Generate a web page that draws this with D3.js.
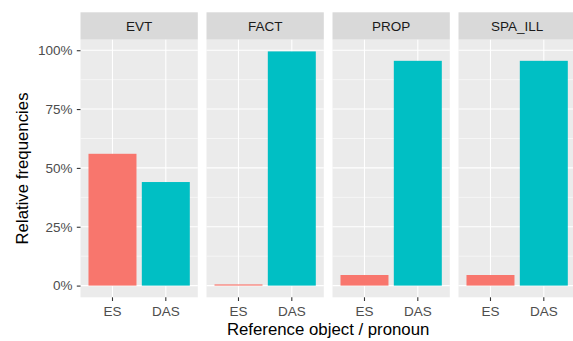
<!DOCTYPE html>
<html>
<head>
<meta charset="utf-8">
<script src="https://cdn.jsdelivr.net/npm/d3@7"></script>
<style>
  html, body { margin: 0; padding: 0; background: #ffffff; }
  svg { display: block; font-family: "Liberation Sans", Arial, sans-serif; }
</style>
</head>
<body>
<svg id="chart" width="573" height="341"></svg>
<script>
// ---- data ----
const facets = ["EVT", "FACT", "PROP", "SPA_ILL"];
const pronouns = ["ES", "DAS"];
const esValues = [0.56, 0.005, 0.045, 0.045];
const dasValues = [0.44, 0.995, 0.955, 0.955];
const yTicks = [0, 0.25, 0.5, 0.75, 1];
const yTickLabels = ["0%", "25%", "50%", "75%", "100%"];
const yMinorTicks = [0.125, 0.375, 0.625, 0.875];
const colors = { ES: "#F8766D", DAS: "#00BFC4" };
const xTitle = "Reference object / pronoun";
const yTitle = "Relative frequencies";

// ---- layout ----
const svg = d3.select("#chart");
const panelLeft = 80.5, panelW = 117.3, panelGap = 8.7;
const stripTop = 12.3, stripH = 27.4;
const panelTop = stripTop + stripH, panelBottom = 297.3;

const maxVal = d3.max(dasValues.concat(esValues));
const pad = maxVal * 0.05;
const y = d3.scaleLinear().domain([-pad, maxVal + pad]).range([panelBottom, panelTop]);

const x = d3.scaleBand().domain(pronouns).range([0, panelW]).paddingInner(0.1).paddingOuter(0.15);

facets.forEach((f, i) => {
  const gx = panelLeft + i * (panelW + panelGap);
  const g = svg.append("g").attr("transform", `translate(${gx},0)`);
  // strip
  g.append("rect").attr("x", 0).attr("y", stripTop).attr("width", panelW).attr("height", stripH).attr("fill", "#D9D9D9");
  g.append("text").attr("x", panelW / 2).attr("y", stripTop + stripH / 2).attr("dy", "0.36em")
    .attr("text-anchor", "middle").attr("fill", "#1A1A1A").attr("font-size", 13.5).text(f);
  // panel background
  g.append("rect").attr("x", 0).attr("y", panelTop).attr("width", panelW).attr("height", panelBottom - panelTop).attr("fill", "#EBEBEB");
  // minor grid
  g.selectAll(".minor").data(yMinorTicks).enter().append("line")
    .attr("x1", 0).attr("x2", panelW).attr("y1", d => y(d)).attr("y2", d => y(d))
    .attr("stroke", "#ffffff").attr("stroke-width", 0.55);
  // major grid
  g.selectAll(".major").data(yTicks).enter().append("line")
    .attr("x1", 0).attr("x2", panelW).attr("y1", d => y(d)).attr("y2", d => y(d))
    .attr("stroke", "#ffffff").attr("stroke-width", 1.1);
  g.selectAll(".vmajor").data(pronouns).enter().append("line")
    .attr("y1", panelTop).attr("y2", panelBottom)
    .attr("x1", d => x(d) + x.bandwidth() / 2).attr("x2", d => x(d) + x.bandwidth() / 2)
    .attr("stroke", "#ffffff").attr("stroke-width", 1.1);
  // bars
  const vals = [esValues[i], dasValues[i]];
  g.selectAll(".bar").data(pronouns).enter().append("rect")
    .attr("x", d => x(d)).attr("width", x.bandwidth())
    .attr("y", (d, j) => y(vals[j])).attr("height", (d, j) => y(0) - y(vals[j]))
    .attr("fill", d => colors[d]);
  // x axis
  const ax = g.append("g").attr("transform", `translate(0,${panelBottom})`)
    .call(d3.axisBottom(x).tickSize(3.7).tickPadding(5.3));
  ax.select(".domain").remove();
  ax.selectAll(".tick line").attr("stroke", "#333333").attr("stroke-width", 1.1);
  ax.selectAll(".tick text").attr("fill", "#4D4D4D").attr("font-size", 13.5).attr("font-family", "Liberation Sans, Arial, sans-serif");
});

// y axis
const ay = svg.append("g").attr("transform", `translate(${panelLeft},0)`)
  .call(d3.axisLeft(y).tickValues(yTicks).tickFormat((d, i) => yTickLabels[i]).tickSize(3.7).tickPadding(4.4));
ay.select(".domain").remove();
ay.selectAll(".tick line").attr("stroke", "#333333").attr("stroke-width", 1.1);
ay.selectAll(".tick text").attr("fill", "#4D4D4D").attr("font-size", 13.5).attr("font-family", "Liberation Sans, Arial, sans-serif");

// titles
const totalRight = panelLeft + facets.length * panelW + (facets.length - 1) * panelGap;
svg.append("text").attr("x", (panelLeft + totalRight) / 2).attr("y", 335)
  .attr("text-anchor", "middle").attr("font-size", 16.8).attr("fill", "#000").text(xTitle);
svg.append("text").attr("transform", `translate(28,${(panelTop + panelBottom) / 2}) rotate(-90)`)
  .attr("text-anchor", "middle").attr("font-size", 16.8).attr("fill", "#000").text(yTitle);
</script>
</body>
</html>
